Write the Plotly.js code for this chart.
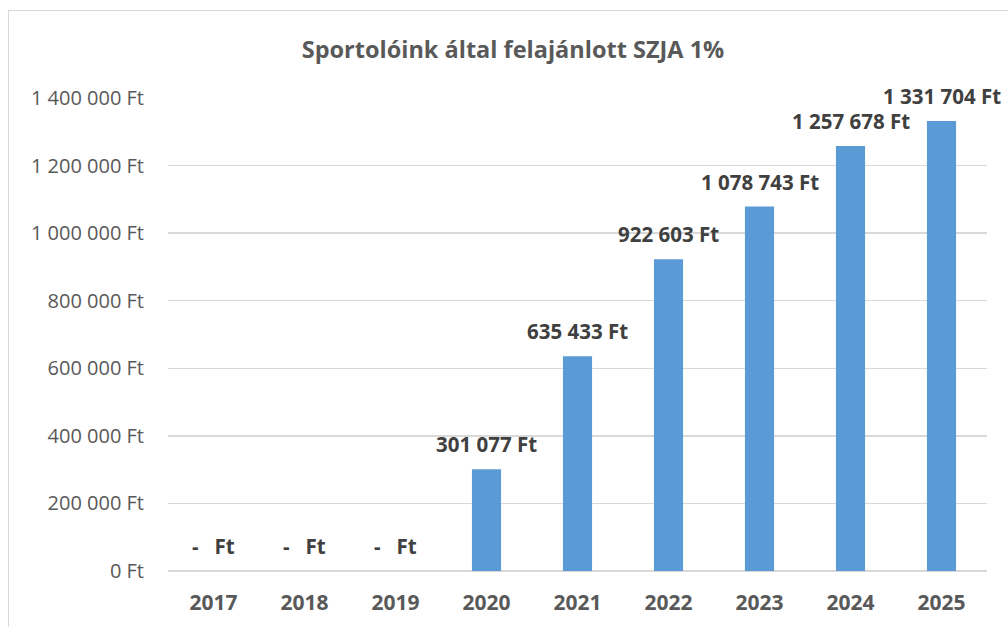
<!DOCTYPE html>
<html>
<head>
<meta charset="utf-8">
<script src="https://cdn.plot.ly/plotly-3.0.1.min.js"></script>
<style>
  html, body { margin: 0; padding: 0; background: #fff; }
  #wrap { position: relative; width: 1008px; height: 627px; overflow: hidden; }
  #chart { width: 1008px; height: 627px; }
  #frame { position: absolute; left: 8px; top: 10px; width: 1100px; height: 700px;
           border-left: 1px solid #d9d9d9; border-top: 1px solid #d9d9d9; pointer-events: none; }
</style>
</head>
<body>
<div id="wrap">
  <div id="chart"></div>
  <div id="frame"></div>
</div>
<script>
const years = ['2017', '2018', '2019', '2020', '2021', '2022', '2023', '2024', '2025'];
const amounts = [0, 0, 0, 301077, 635433, 922603, 1078743, 1257678, 1331704];
const yTicks = [0, 200000, 400000, 600000, 800000, 1000000, 1200000, 1400000];
const chartTitle = 'Sportolóink által felajánlott SZJA 1%';

const NB = '\u00a0';
function groupDigits(v) {
  return String(v).replace(/\B(?=(\d{3})+(?!\d))/g, NB);
}
function fmt(v) {
  if (v === 0) return '-' + NB + NB + NB + 'Ft';
  return groupDigits(v) + NB + 'Ft';
}

const FONT = 'Open Sans, sans-serif';
const GRAY = '#595959';

const trace = {
  type: 'bar',
  x: years,
  y: amounts,
  marker: { color: '#5b9bd5' },
  hoverinfo: 'skip'
};

// category axis: annotation x is the category index
const annotations = years.map((yr, i) => ({
  x: i, y: amounts[i], xref: 'x', yref: 'y',
  text: '<b>' + fmt(amounts[i]) + '</b>',
  showarrow: false, xanchor: 'center', yanchor: 'bottom', yshift: 9,
  font: { family: FONT, size: 20.5, color: '#404040' }
}));

const layout = {
  width: 1008, height: 627,
  margin: { l: 168, r: 21, t: 98, b: 56, pad: 0 },
  paper_bgcolor: 'rgba(0,0,0,0)', plot_bgcolor: '#fff',
  showlegend: false,
  bargap: 0.68,
  title: {
    text: '<b>' + chartTitle + '</b>',
    xref: 'container', yref: 'container',
    x: 513 / 1008, y: 1 - 50 / 627, xanchor: 'center', yanchor: 'middle',
    font: { family: FONT, size: 23.5, color: GRAY }
  },
  xaxis: {
    type: 'category',
    range: [-0.5, years.length - 0.5],
    tickvals: years,
    ticktext: years.map(y => '<b>' + y + '</b>'),
    showgrid: false, zeroline: false, showline: false,
    ticks: 'outside', ticklen: 13, tickcolor: 'rgba(0,0,0,0)',
    tickfont: { family: FONT, size: 21, color: GRAY }
  },
  yaxis: {
    range: [0, 1400000],
    tickvals: yTicks,
    ticktext: yTicks.map(v => groupDigits(v) + NB + 'Ft'),
    showgrid: true, gridcolor: '#d9d9d9', gridwidth: 1.3,
    zeroline: true, zerolinecolor: '#d9d9d9', zerolinewidth: 1.5,
    showline: false, ticks: 'outside', ticklen: 19, tickcolor: 'rgba(0,0,0,0)',
    tickfont: { family: FONT, size: 20, color: GRAY }
  },
  annotations: annotations
};

Plotly.newPlot('chart', [trace], layout, { displayModeBar: false, staticPlot: true });
</script>
</body>
</html>
